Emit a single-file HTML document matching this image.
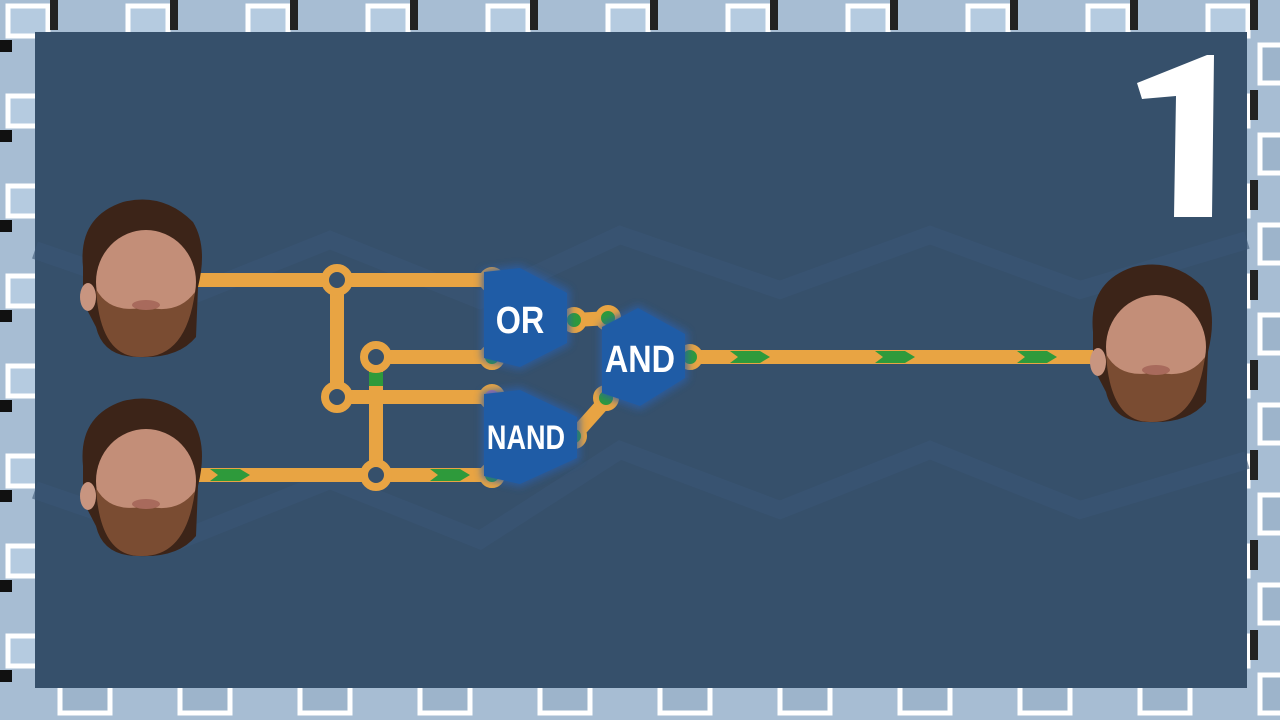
<!DOCTYPE html>
<html><head><meta charset="utf-8"><style>
html,body{margin:0;padding:0;width:1280px;height:720px;overflow:hidden;background:#9fb6cd}
</style></head><body>
<svg width="1280" height="720" viewBox="0 0 1280 720" xmlns="http://www.w3.org/2000/svg" style="position:absolute;left:0;top:0">
<defs>
<pattern id="bd" width="120" height="90" patternUnits="userSpaceOnUse">
<rect width="120" height="90" fill="#a7bdd3"/>
<rect x="8" y="6" width="40" height="30" fill="#b5cbe0" stroke="#fff" stroke-width="5"/>
<rect x="60" y="45" width="50" height="38" fill="#9db4cb" stroke="#fff" stroke-width="5"/>
<rect x="0" y="40" width="12" height="12" fill="#111"/>
<rect x="50" y="0" width="8" height="30" fill="#222"/>
</pattern>
<filter id="gl"><feGaussianBlur stdDeviation="4"/></filter>
<g id="face">
<path d="M5 70 Q0 20 45 5 Q85 -5 115 25 Q130 50 120 90 L118 140 Q100 162 60 160 Q25 160 18 130 L5 105Z" fill="#3c2418"/>
<ellipse cx="68" cy="85" rx="50" ry="52" fill="#c38e78"/>
<path d="M18 92 Q22 160 62 160 Q108 162 117 95 Q100 118 68 110 Q32 118 18 92Z" fill="#7a4c32"/>
<ellipse cx="68" cy="108" rx="14" ry="5" fill="#a86a5c"/>
<ellipse cx="10" cy="100" rx="8" ry="14" fill="#c89580"/>
</g>
</defs>
<rect width="1280" height="720" fill="url(#bd)"/>
<rect x="35" y="32" width="1212" height="656" fill="#36506b"/>
<path d="M35 250 L180 300 L330 240 L480 300 L620 235 L780 290 L930 235 L1080 290 L1247 240" stroke="#3a5574" stroke-width="18" fill="none" opacity="0.6"/>
<path d="M35 490 L180 540 L330 480 L480 540 L620 450 L780 510 L930 450 L1080 510 L1247 460" stroke="#3a5574" stroke-width="18" fill="none" opacity="0.6"/>

<g stroke="#e8a443" stroke-width="14" fill="none">
<line x1="195" y1="280" x2="495" y2="280"/>
<line x1="337" y1="280" x2="337" y2="397"/>
<line x1="337" y1="397" x2="495" y2="397"/>
<line x1="376" y1="357" x2="495" y2="357"/>
<line x1="376" y1="357" x2="376" y2="475"/>
<line x1="195" y1="475" x2="495" y2="475"/>
<line x1="575" y1="320" x2="610" y2="318"/>
<line x1="575" y1="435" x2="608" y2="398"/>
<line x1="685" y1="357" x2="1100" y2="357"/>
</g>
<rect x="369" y="372" width="14" height="14" fill="#2e9a3b"/>
<g fill="#2e9a3b">
<path d="M210 469 L240 469 L250 475 L240 481 L210 481 L218 475Z"/>
<path d="M430 469 L460 469 L470 475 L460 481 L430 481 L438 475Z"/>
<path d="M730 351 L760 351 L770 357 L760 363 L730 363 L738 357Z"/>
<path d="M875 351 L905 351 L915 357 L905 363 L875 363 L883 357Z"/>
<path d="M1017 351 L1047 351 L1057 357 L1047 363 L1017 363 L1025 357Z"/>
</g>
<g fill="#36506b" stroke="#e8a443" stroke-width="8">
<circle cx="337" cy="280" r="12"/><circle cx="337" cy="397" r="12"/>
<circle cx="376" cy="357" r="12"/><circle cx="376" cy="475" r="12"/>
</g>
<g fill="#2e9a3b" stroke="#e8a443" stroke-width="6">
<circle cx="492" cy="280" r="10" fill="#c77aa8"/><circle cx="492" cy="357" r="10"/>
<circle cx="492" cy="397" r="10" fill="#c77aa8"/><circle cx="492" cy="475" r="10"/>
<circle cx="574" cy="320" r="10"/><circle cx="608" cy="318" r="10"/>
<circle cx="574" cy="436" r="10"/><circle cx="606" cy="398" r="10"/>
<circle cx="690" cy="357" r="10"/>
</g>
<g fill="#2a5fa8" filter="url(#gl)" opacity="0.8">
<polygon points="482,270 520,265 570,290 570,345 520,370 482,360"/>
<polygon points="482,392 520,387 580,415 580,460 520,487 482,478"/>
<polygon points="600,325 638,305 688,332 688,380 640,410 600,395"/>
</g>
<g fill="#1f5ca6">
<polygon points="484,272 520,268 567,293 567,343 520,367 484,358"/>
<polygon points="484,394 520,390 577,417 577,458 520,484 484,476"/>
<polygon points="602,327 638,308 685,334 685,378 640,406 602,393"/>
</g>
<g fill="#fff" font-family="Liberation Sans, sans-serif" font-weight="bold" text-anchor="middle">
<text x="520" y="333" font-size="36" transform="translate(520 333) scale(0.9 1.05) translate(-520 -333)">OR</text>
<text x="526" y="449" font-size="33" transform="translate(526 449) scale(0.82 1.05) translate(-526 -449)">NAND</text>
<text x="640" y="372" font-size="36" transform="translate(640 372) scale(0.9 1.05) translate(-640 -372)">AND</text>
</g>
<polygon points="1137,83 1207,55 1214,55 1212,217 1174,217 1176,96 1142,99" fill="#fff"/>
<use href="#face" x="78" y="197"/>
<use href="#face" x="78" y="396"/>
<use href="#face" x="1088" y="262"/>
</svg>
</body></html>
